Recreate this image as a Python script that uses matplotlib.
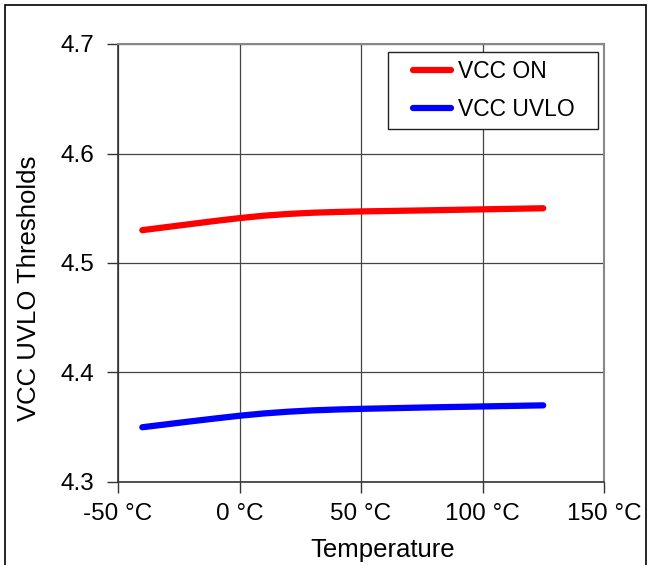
import numpy as np
import matplotlib
matplotlib.use('Agg')
import matplotlib.pyplot as plt
from matplotlib.patches import Rectangle

temps = [-40, -30, -20, -10, 0, 10, 20, 30, 40, 50, 75, 100, 125]
vcc_on = [4.530, 4.5328, 4.5356, 4.5384, 4.541, 4.5432, 4.5448, 4.5459, 4.5466, 4.5471, 4.548, 4.549, 4.550]
vcc_uvlo = [4.350, 4.3527, 4.3554, 4.3580, 4.3605, 4.3626, 4.3642, 4.3654, 4.3662, 4.3668, 4.3680, 4.3690, 4.3700]
xticks = [-50, 0, 50, 100, 150]
yticks = [4.3, 4.4, 4.5, 4.6, 4.7]

plt.rcParams['font.family'] = ['Liberation Sans', 'DejaVu Sans']

fig = plt.figure(figsize=(6.49, 5.65), dpi=100)
ax = fig.add_axes([118/649, 1-482/565, (604-118)/649, (482-44)/565])

ax.plot(temps, vcc_on, color='#ff0000', lw=4.5, solid_capstyle='round', label='VCC ON')
ax.plot(temps, vcc_uvlo, color='#0000ff', lw=4.5, solid_capstyle='round', label='VCC UVLO')

ax.set_xlim(-50, 150)
ax.set_ylim(4.3, 4.7)
ax.set_xticks(xticks)
ax.set_xticklabels(['%d \u00b0C' % t for t in xticks])
ax.set_yticks(yticks)
ax.set_yticklabels(['%.1f' % v for v in yticks])
ax.tick_params(axis='both', labelsize=17.5, direction='out', length=8, width=1, color='#333333')
ax.tick_params(axis='x', pad=7)
ax.tick_params(axis='y', pad=9)
ax.tick_params(top=False, right=False)
ax.grid(True, color='#444444', lw=0.9)
for s in ['top', 'right']:
    ax.spines[s].set_color('#888888')
    ax.spines[s].set_linewidth(1.5)
for s in ['left', 'bottom']:
    ax.spines[s].set_color('#333333')
    ax.spines[s].set_linewidth(1.2)

ax.set_xlabel('Temperature', fontsize=18.5, va='center')
ax.xaxis.set_label_coords((383-118)/486, (482-550)/438)
ax.set_ylabel('VCC UVLO Thresholds', fontsize=18.5, va='center')
ax.yaxis.set_label_coords((29-118)/486, (482-288)/438)

leg = ax.legend(loc='upper left', bbox_to_anchor=((388-118)/486, 0.5, 210/486, (482-52)/438 - 0.5),
                mode='expand', borderaxespad=0, fontsize=16.5, frameon=True,
                fancybox=False, handlelength=2.49, handletextpad=0.22, borderpad=0.34,
                labelspacing=0.68)
leg.get_frame().set_edgecolor('#222222')
leg.get_frame().set_linewidth(1)
leg.get_frame().set_alpha(1)
for ln in leg.get_lines():
    xd = np.asarray(ln.get_xdata(), dtype=float)
    x0, x1 = xd[0], xd[-1]
    ln.set_xdata(np.linspace(x0 + 0.3 * (x1 - x0), x1 - 0.03 * (x1 - x0), len(xd)))

fig.patches.append(Rectangle((5/649, -0.02), 641/649, 1.02 - 5/565, transform=fig.transFigure,
                             fill=False, edgecolor='black', lw=1.2))

fig.savefig('out.png', dpi=100)
